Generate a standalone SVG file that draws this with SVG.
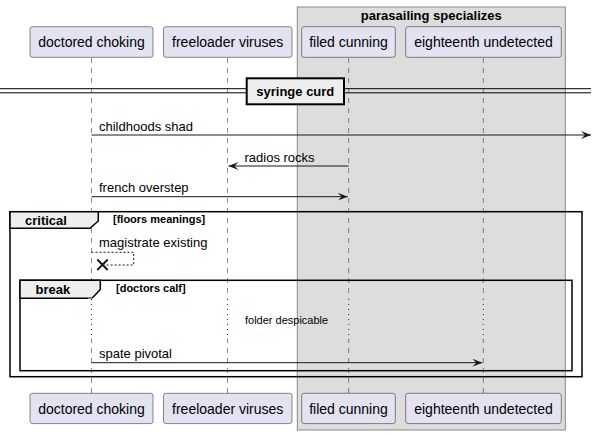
<svg xmlns="http://www.w3.org/2000/svg" width="597" height="435" viewBox="0 0 597 435">
<style>
.pbox{fill:#E2E2F0;stroke:#181818;stroke-width:0.5}
.ptxt{font-family:"Liberation Sans",Arial,sans-serif;font-size:14px;fill:#000;text-anchor:middle}
.life{stroke:#181818;stroke-width:0.5;stroke-dasharray:5,5;fill:none}
.dot{stroke:#800040;stroke-width:1;stroke-dasharray:1,4;fill:none}
.msg{stroke:#181818;stroke-width:1;fill:none}
.mtxt{font-family:"Liberation Sans",Arial,sans-serif;font-size:13px;fill:#000}
.btxt{font-family:"Liberation Sans",Arial,sans-serif;font-size:13px;font-weight:bold;fill:#000}
.ctxt{font-family:"Liberation Sans",Arial,sans-serif;font-size:11px;font-weight:bold;fill:#000}
.frame{fill:none;stroke:#000;stroke-width:1.5}
.tab{fill:#EEEEEE;stroke:#000;stroke-width:1.5}
</style>
<defs>
<marker id="ah" markerWidth="11" markerHeight="9" refX="10" refY="4" orient="auto" markerUnits="userSpaceOnUse">
<path d="M0,0 L10,4 L0,8 L4,4 Z" fill="#181818"/>
</marker>
</defs>
<rect width="597" height="435" fill="#fff"/>
<g id="box-parasailing">
<rect x="297.3" y="7" width="268" height="423" fill="#DDDDDD" stroke="#888888" stroke-width="1"/>
<text x="431.3" y="19.5" class="btxt" text-anchor="middle">parasailing specializes</text>
</g>
<g id="lifelines">
<line x1="91.5" y1="58" x2="91.5" y2="393" class="life"/>
<line x1="227.5" y1="58" x2="227.5" y2="393" class="life"/>
<line x1="348.7" y1="58" x2="348.7" y2="393" class="life"/>
<line x1="483.3" y1="58" x2="483.3" y2="393" class="life"/>
</g>
<g id="divider">
<line x1="0" y1="88.7" x2="591" y2="88.7" stroke="#000" stroke-width="1"/>
<line x1="0" y1="92.8" x2="591" y2="92.8" stroke="#000" stroke-width="1"/>
<rect x="246.7" y="78.3" width="97.3" height="26" fill="#EEEEEE" stroke="#000" stroke-width="2"/>
<text x="295.3" y="96" class="btxt" text-anchor="middle">syringe curd</text>
</g>
<g id="frame-critical">
<rect x="10" y="211.7" width="572" height="165" class="frame"/>
<path d="M10,211.7 H98.3 V221 L90,228.3 H10 Z" class="tab"/>
<text x="25" y="225" class="btxt">critical</text>
<text x="113" y="223" class="ctxt">[floors meanings]</text>
</g>
<g id="frame-break">
<rect x="20" y="280.3" width="552" height="90.4" class="frame"/>
<path d="M20,280.3 H100.3 V289.5 L92,298.3 H20 Z" class="tab"/>
<text x="35.5" y="294" class="btxt">break</text>
<text x="116" y="291.5" class="ctxt">[doctors calf]</text>
</g>
<g id="delay">
<rect x="88" y="298.5" width="8" height="40" fill="#fff"/>
<rect x="224" y="298.5" width="8" height="40" fill="#fff"/>
<rect x="345" y="298.5" width="8" height="40" fill="#DDDDDD"/>
<rect x="479.5" y="298.5" width="8" height="40" fill="#DDDDDD"/>
<line x1="91.5" y1="299" x2="91.5" y2="338" class="dot"/>
<line x1="227.5" y1="299" x2="227.5" y2="338" class="dot"/>
<line x1="348.7" y1="299" x2="348.7" y2="338" class="dot"/>
<line x1="483.3" y1="299" x2="483.3" y2="338" class="dot"/>
<text x="245" y="324" font-family="Liberation Sans,Arial,sans-serif" font-size="11px" fill="#000">folder despicable</text>
</g>
<g id="connectors">
<line x1="91.5" y1="135" x2="591" y2="135" class="msg" marker-end="url(#ah)"/>
<text x="99" y="131" class="mtxt">childhoods shad</text>
<line x1="348.7" y1="166" x2="228.5" y2="166" class="msg" marker-end="url(#ah)"/>
<text x="244.5" y="161.5" class="mtxt">radios rocks</text>
<line x1="91.5" y1="196.7" x2="347.7" y2="196.7" class="msg" marker-end="url(#ah)"/>
<text x="99" y="192" class="mtxt">french overstep</text>
<path d="M91.5,252.3 H133.7 V265 H104" class="msg" stroke-dasharray="2,2"/>
<text x="99" y="247" class="mtxt">magistrate existing</text>
<path d="M97.3,259.5 L107.7,270 M97.3,270 L107.7,259.5" stroke="#181818" stroke-width="2" fill="none"/>
<line x1="91.5" y1="362.7" x2="482.3" y2="362.7" class="msg" marker-end="url(#ah)"/>
<text x="99" y="358" class="mtxt">spate pivotal</text>
</g>
<g id="p-doctored">
<rect x="30" y="26.7" width="123" height="30.6" rx="2.5" class="pbox"/>
<text x="91.5" y="47.3" class="ptxt">doctored choking</text>
<rect x="30" y="393.3" width="123" height="30.3" rx="2.5" class="pbox"/>
<text x="91.5" y="413.8" class="ptxt">doctored choking</text>
</g>
<g id="p-freeloader">
<rect x="163.5" y="26.7" width="128.5" height="30.6" rx="2.5" class="pbox"/>
<text x="227.7" y="47.3" class="ptxt">freeloader viruses</text>
<rect x="163.5" y="393.3" width="128.5" height="30.3" rx="2.5" class="pbox"/>
<text x="227.7" y="413.8" class="ptxt">freeloader viruses</text>
</g>
<g id="p-filed">
<rect x="301.7" y="26.7" width="93.6" height="30.6" rx="2.5" class="pbox"/>
<text x="348.5" y="47.3" class="ptxt">filed cunning</text>
<rect x="301.7" y="393.3" width="93.6" height="30.3" rx="2.5" class="pbox"/>
<text x="348.5" y="413.8" class="ptxt">filed cunning</text>
</g>
<g id="p-eighteenth">
<rect x="405.7" y="26.7" width="155.6" height="30.6" rx="2.5" class="pbox"/>
<text x="483.5" y="47.3" class="ptxt">eighteenth undetected</text>
<rect x="405.7" y="393.3" width="155.6" height="30.3" rx="2.5" class="pbox"/>
<text x="483.5" y="413.8" class="ptxt">eighteenth undetected</text>
</g>
</svg>
